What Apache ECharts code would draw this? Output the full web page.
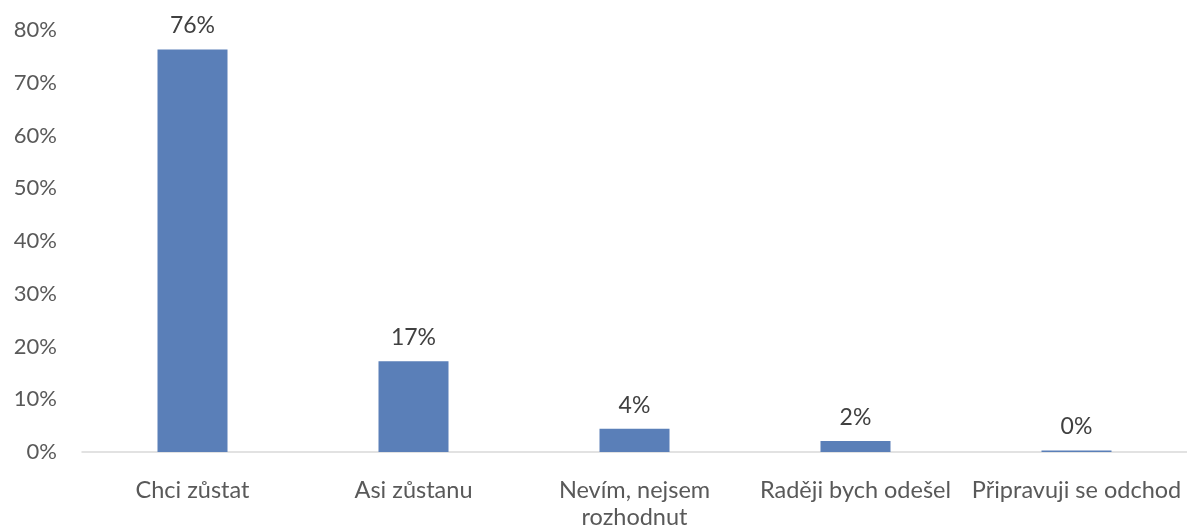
<!DOCTYPE html>
<html>
<head>
<meta charset="utf-8">
<script src="https://cdn.jsdelivr.net/npm/echarts@6/dist/echarts.min.js"></script>
<style>
  html, body { margin: 0; padding: 0; background: #fff; }
  #chart { width: 1187px; height: 531px; }
</style>
</head>
<body>
<div id="chart"></div>
<script>
const categories = ['Chci zůstat', 'Asi zůstanu', 'Nevím, nejsem\nrozhodnut', 'Raději bych odešel', 'Připravuji se odchod'];
const values = [76.3, 17.2, 4.4, 2.1, 0.3];
const yTicks = { min: 0, max: 80, interval: 10 };

const font = 'Lato, "Open Sans", sans-serif';

let myChart = echarts.init(document.getElementById('chart'));
let option = {
  animation: false,
  grid: { left: 82, right: -5, top: 30, bottom: 75 },
  xAxis: {
    type: 'category',
    data: categories,
    axisLine: { lineStyle: { color: '#d9d9d9', width: 1.5 } },
    axisTick: { show: false },
    axisLabel: {
      color: '#595959',
      fontSize: 23.5,
      fontFamily: font,
      margin: 25,
      lineHeight: 27,
      interval: 0
    }
  },
  yAxis: {
    type: 'value',
    min: yTicks.min,
    max: yTicks.max,
    interval: yTicks.interval,
    splitLine: { show: false },
    axisLine: { show: false },
    axisTick: { show: false },
    axisLabel: {
      color: '#595959',
      fontSize: 22,
      fontFamily: font,
      margin: 25,
      padding: [6, 0, 0, 0],
      formatter: v => v + '%'
    }
  },
  series: [
    {
      type: 'bar',
      data: values,
      barWidth: 70,
      itemStyle: { color: '#5a7fb8' },
      label: {
        show: true,
        position: 'top',
        distance: 12,
        color: '#404040',
        fontSize: 23,
        fontFamily: font,
        formatter: p => Math.round(p.value) + '%'
      }
    }
  ]
};
myChart.setOption(option);
window.onresize = myChart.resize;
</script>
</body>
</html>
